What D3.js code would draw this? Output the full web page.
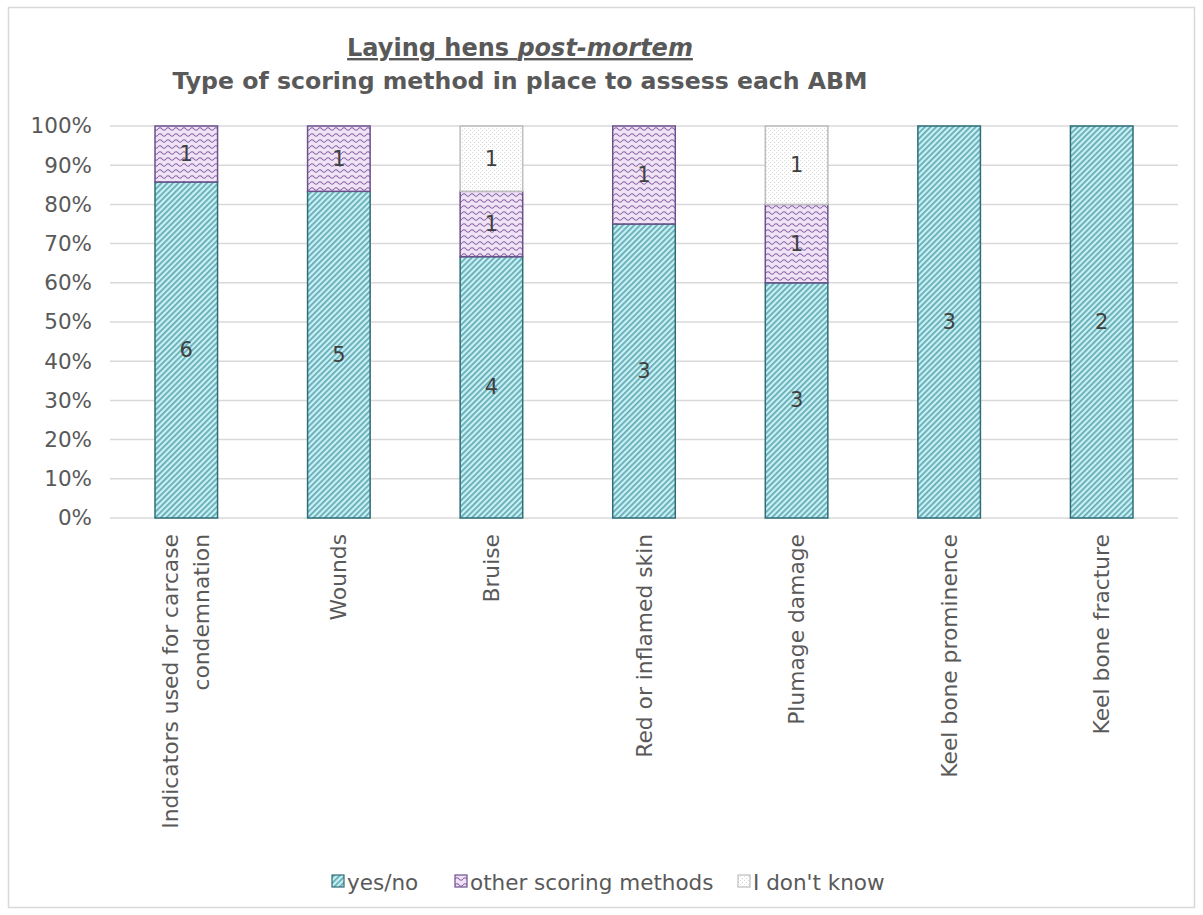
<!DOCTYPE html>
<html>
<head>
<meta charset="utf-8">
<script src="https://cdn.jsdelivr.net/npm/d3@7"></script>
<style>
  html, body { margin: 0; padding: 0; background: #ffffff; }
  svg { display: block; }
</style>
</head>
<body>
<script>
// ---- Data ----
const categories = [
  "Indicators used for carcase\ncondemnation",
  "Wounds",
  "Bruise",
  "Red or inflamed skin",
  "Plumage damage",
  "Keel bone prominence",
  "Keel bone fracture"
];
const seriesNames = ["yes/no", "other scoring methods", "I don't know"];
const yesNo     = [6, 5, 4, 3, 3, 3, 2];
const otherMeth = [1, 1, 1, 1, 1, 0, 0];
const dontKnow  = [0, 0, 1, 0, 1, 0, 0];
const yTicks = [0, 0.1, 0.2, 0.3, 0.4, 0.5, 0.6, 0.7, 0.8, 0.9, 1.0];

const W = 1203, H = 915;
const margin = { left: 110, right: 25, top: 126, bottom: 397 };
const plotW = W - margin.left - margin.right;
const plotH = H - margin.top - margin.bottom;
const FONT = "'DejaVu Sans', Verdana, sans-serif";
const TXT = "#595959";

const svg = d3.select("body").append("svg").attr("width", W).attr("height", H);

// patterns
const defs = svg.append("defs");
const p1 = defs.append("pattern").attr("id", "pYes").attr("patternUnits", "userSpaceOnUse")
  .attr("width", 4).attr("height", 4).attr("patternTransform", "rotate(45)");
p1.append("rect").attr("width", 4).attr("height", 4).attr("fill", "#c8f1f5");
p1.append("rect").attr("x", 0).attr("width", 1.7).attr("height", 4).attr("fill", "#62a8b2");

const p2 = defs.append("pattern").attr("id", "pOther").attr("patternUnits", "userSpaceOnUse")
  .attr("width", 8).attr("height", 6);
p2.append("rect").attr("width", 8).attr("height", 6).attr("fill", "#f1e3f6");
p2.append("path").attr("d", "M0,3 Q2,0.5 4,3 T8,3").attr("fill", "none")
  .attr("stroke", "#8462a2").attr("stroke-width", 1.1);

const p3 = defs.append("pattern").attr("id", "pDk").attr("patternUnits", "userSpaceOnUse")
  .attr("width", 4).attr("height", 4);
p3.append("rect").attr("width", 4).attr("height", 4).attr("fill", "#ffffff");
p3.append("rect").attr("x", 0).attr("y", 0).attr("width", 1).attr("height", 1).attr("fill", "#cfcfcf");
p3.append("rect").attr("x", 2).attr("y", 2).attr("width", 1).attr("height", 1).attr("fill", "#dcdcdc");

const fills = ["url(#pYes)", "url(#pOther)", "url(#pDk)"];
const strokes = ["#2f6d77", "#6c508c", "#bdbdbd"];

// outer border
svg.append("rect").attr("x", 8.5).attr("y", 7.5).attr("width", W - 17).attr("height", H - 15)
  .attr("fill", "none").attr("stroke", "#d9d9d9").attr("stroke-width", 1.5);

const g = svg.append("g").attr("transform", `translate(${margin.left},${margin.top})`);

const x = d3.scaleBand().domain(categories).range([0, plotW]).paddingInner(0.59).paddingOuter(0.295);
const y = d3.scaleLinear().domain([0, 1]).range([plotH, 0]);

// grid
g.selectAll(".grid").data(yTicks).join("line")
  .attr("x1", 0).attr("x2", plotW)
  .attr("y1", d => y(d)).attr("y2", d => y(d))
  .attr("stroke", "#d9d9d9").attr("stroke-width", 1.5);

// y labels
const yAxis = d3.axisLeft(y).tickValues(yTicks).tickFormat(d3.format(".0%")).tickSize(0).tickPadding(18);
const ya = g.append("g").call(yAxis);
ya.select(".domain").remove();
ya.selectAll("text").attr("font-family", FONT).attr("font-size", 21.5).attr("fill", TXT);

// stack
const table = categories.map((c, i) => ({ cat: c, s0: yesNo[i], s1: otherMeth[i], s2: dontKnow[i] }));
const stack = d3.stack().keys(["s0", "s1", "s2"]).offset(d3.stackOffsetExpand);
const layers = stack(table);

layers.forEach((layer, li) => {
  const lg = g.append("g");
  layer.forEach(d => {
    const v = d.data["s" + li];
    if (v <= 0) return;
    const x0 = x(d.data.cat), bw = x.bandwidth();
    const yt = y(d[1]), yb = y(d[0]);
    lg.append("rect").attr("x", x0).attr("y", yt).attr("width", bw).attr("height", yb - yt)
      .attr("fill", fills[li]).attr("stroke", strokes[li]).attr("stroke-width", 1.5);
    lg.append("text").attr("x", x0 + bw / 2).attr("y", (yt + yb) / 2)
      .attr("text-anchor", "middle").attr("dominant-baseline", "central")
      .attr("font-family", FONT).attr("font-size", 21).attr("fill", "#404040")
      .text(v);
  });
});

// x labels (rotated)
categories.forEach(c => {
  const lines = c.split("\n");
  const cx = x(c) + x.bandwidth() / 2;
  const t = g.append("text")
    .attr("transform", `translate(${cx},${plotH + 16}) rotate(-90)`)
    .attr("text-anchor", "end").attr("font-family", FONT).attr("font-size", 21.8).attr("fill", TXT);
  const lh = 31;
  lines.forEach((ln, i) => {
    const off = (i - (lines.length - 1) / 2) * lh;
    t.append("tspan").attr("x", 0).attr("y", off).attr("dy", "0.35em").text(ln);
  });
});

// title
const title = svg.append("text").attr("x", 520).attr("y", 56).attr("text-anchor", "middle")
  .attr("font-family", FONT).attr("font-size", 24).attr("font-weight", "bold").attr("fill", TXT)
  .attr("text-decoration", "underline");
title.append("tspan").text("Laying hens ");
title.append("tspan").attr("font-style", "italic").text("post-mortem");
svg.append("text").attr("x", 520).attr("y", 89).attr("text-anchor", "middle")
  .attr("font-family", FONT).attr("font-size", 23.6).attr("font-weight", "bold").attr("fill", TXT)
  .text("Type of scoring method in place to assess each ABM");

// legend
const legX = [332, 455, 738];
seriesNames.forEach((n, i) => {
  const lg = svg.append("g").attr("transform", `translate(${legX[i]},882)`);
  lg.append("rect").attr("x", 0).attr("y", -7).attr("width", 12).attr("height", 12)
    .attr("fill", fills[i]).attr("stroke", strokes[i]).attr("stroke-width", 1.2);
  lg.append("text").attr("x", 15).attr("y", 0).attr("dominant-baseline", "central")
    .attr("font-family", FONT).attr("font-size", 21.5).attr("fill", TXT).text(n);
});
</script>
</body>
</html>
